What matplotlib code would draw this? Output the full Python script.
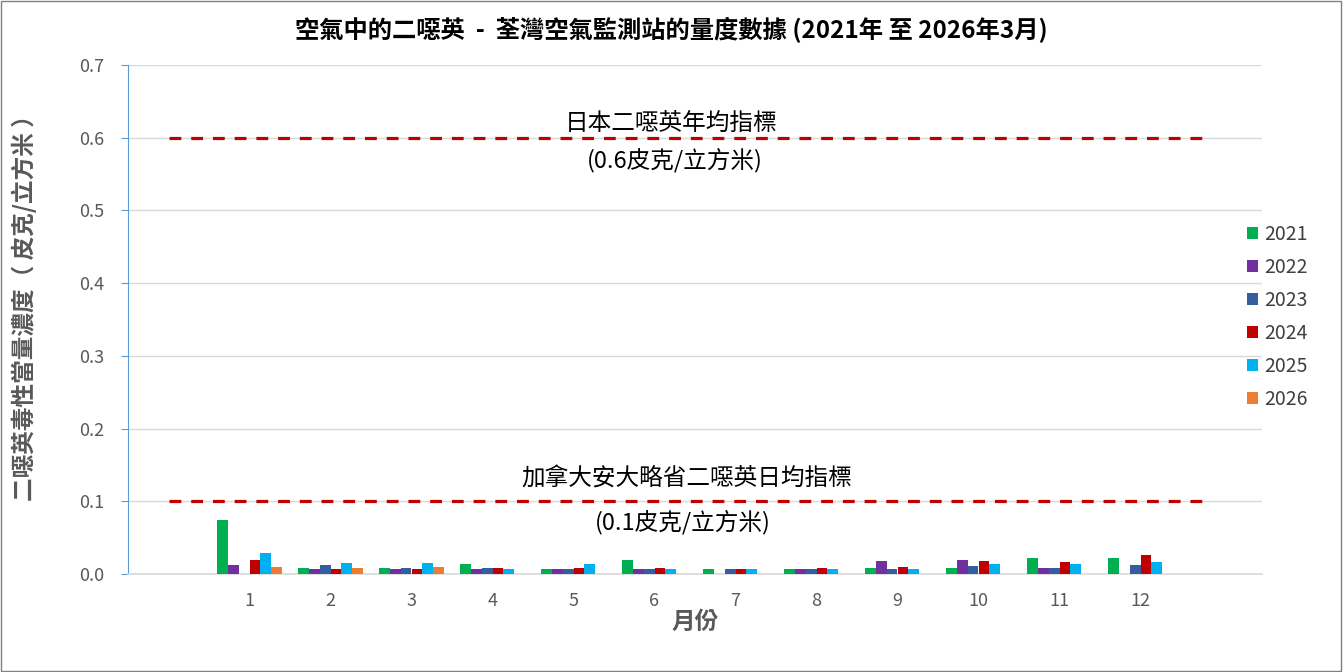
import numpy as np
import matplotlib.pyplot as plt
from matplotlib.patches import Rectangle

plt.rcParams['font.family'] = ['Noto Sans CJK TC', 'DejaVu Sans']

months = list(range(1, 13))
years = ['2021', '2022', '2023', '2024', '2025', '2026']
nan = np.nan
v2021 = [0.074, 0.008, 0.008, 0.014, 0.007, 0.019, 0.007, 0.007, 0.008, 0.008, 0.022, 0.022]
v2022 = [0.012, 0.007, 0.007, 0.007, 0.007, 0.007, nan, 0.007, 0.018, 0.019, 0.008, nan]
v2023 = [nan, 0.012, 0.008, 0.008, 0.007, 0.007, 0.007, 0.007, 0.007, 0.011, 0.008, 0.012]
v2024 = [0.019, 0.007, 0.007, 0.008, 0.008, 0.008, 0.007, 0.008, 0.010, 0.018, 0.016, 0.026]
v2025 = [0.029, 0.015, 0.015, 0.007, 0.014, 0.007, 0.007, 0.007, 0.007, 0.014, 0.014, 0.016]
v2026 = [0.010, 0.008, 0.010, nan, nan, nan, nan, nan, nan, nan, nan, nan]
series = [v2021, v2022, v2023, v2024, v2025, v2026]
colors = ['#00B050', '#7030A0', '#355E9E', '#C00000', '#00B0F0', '#ED7D31']

japan_limit = 0.6
canada_limit = 0.1

fig = plt.figure(figsize=(13.43, 6.72), dpi=100)
ax = fig.add_axes([128 / 1343, 1 - 574 / 672, (1262 - 128) / 1343, (574 - 65) / 672])

x = np.array(months)
w = 0.132
for k, (vals, c, yr) in enumerate(zip(series, colors, years)):
    ax.bar(x + (k - 2.5) * w, vals, width=w, color=c, label=yr, zorder=3)

# guideline series, drawn over the category range
dash = (0, (3.7, 3.1))
ax.plot([0, 12.83], [japan_limit] * 2, color='#C00000', lw=2.3, ls=dash, zorder=4)
ax.plot([0, 12.83], [canada_limit] * 2, color='#C00000', lw=2.3, ls=dash, zorder=4)

ax.text(6.2, 0.62, '日本二噁英年均指標', ha='center', va='center', fontsize=17, color='black')
ax.text(6.25, 0.569, '(0.6皮克/立方米)', ha='center', va='center', fontsize=17, color='black')
ax.text(6.4, 0.132, '加拿大安大略省二噁英日均指標', ha='center', va='center', fontsize=17, color='black')
ax.text(6.35, 0.071, '(0.1皮克/立方米)', ha='center', va='center', fontsize=17, color='black')

ax.set_xlim(-0.5, 13.5)
ax.set_ylim(0, 0.7)
ax.set_xticks(months)
ax.set_xticklabels([str(m) for m in months])
ax.set_yticks(np.arange(0, 0.71, 0.1))
ax.set_yticklabels([f'{t:.1f}' for t in np.arange(0, 0.71, 0.1)])
ax.tick_params(axis='x', length=0, labelsize=13, labelcolor='#595959', pad=13)
ax.tick_params(axis='y', length=5, color='#5B9BD5', labelsize=13, labelcolor='#595959', pad=12)
ax.grid(axis='y', color='#D9D9D9', lw=1, zorder=0)
for s in ['top', 'right']:
    ax.spines[s].set_visible(False)
ax.spines['left'].set_color('#5B9BD5')
ax.spines['bottom'].set_color('#D9D9D9')
ax.spines['bottom'].set_linewidth(1.2)

ax.set_xlabel('月份', fontsize=17, color='#595959', fontweight='bold', labelpad=0)
ax.set_ylabel('二噁英毒性當量濃度（ 皮克/立方米 ）', fontsize=17, color='#595959',
              fontweight='bold')
ax.yaxis.set_label_coords(-0.08, 0.535)
fig.suptitle('空氣中的二噁英  -  荃灣空氣監測站的量度數據 (2021年 至 2026年3月)',
             x=0.5, y=0.975, fontsize=17.5, fontweight='bold')

fig.legend(loc='center left', bbox_to_anchor=(1229 / 1343, 1 - 317 / 672), frameon=False,
           fontsize=14, labelcolor='#404040', handlelength=0.6, handleheight=0.6,
           handletextpad=0.3, labelspacing=0.62)

fig.patches.append(Rectangle((0.0005, 0.001), 0.998, 0.997, transform=fig.transFigure,
                             fill=False, edgecolor='#808080', lw=1))

fig.savefig('out.png', dpi=100)
